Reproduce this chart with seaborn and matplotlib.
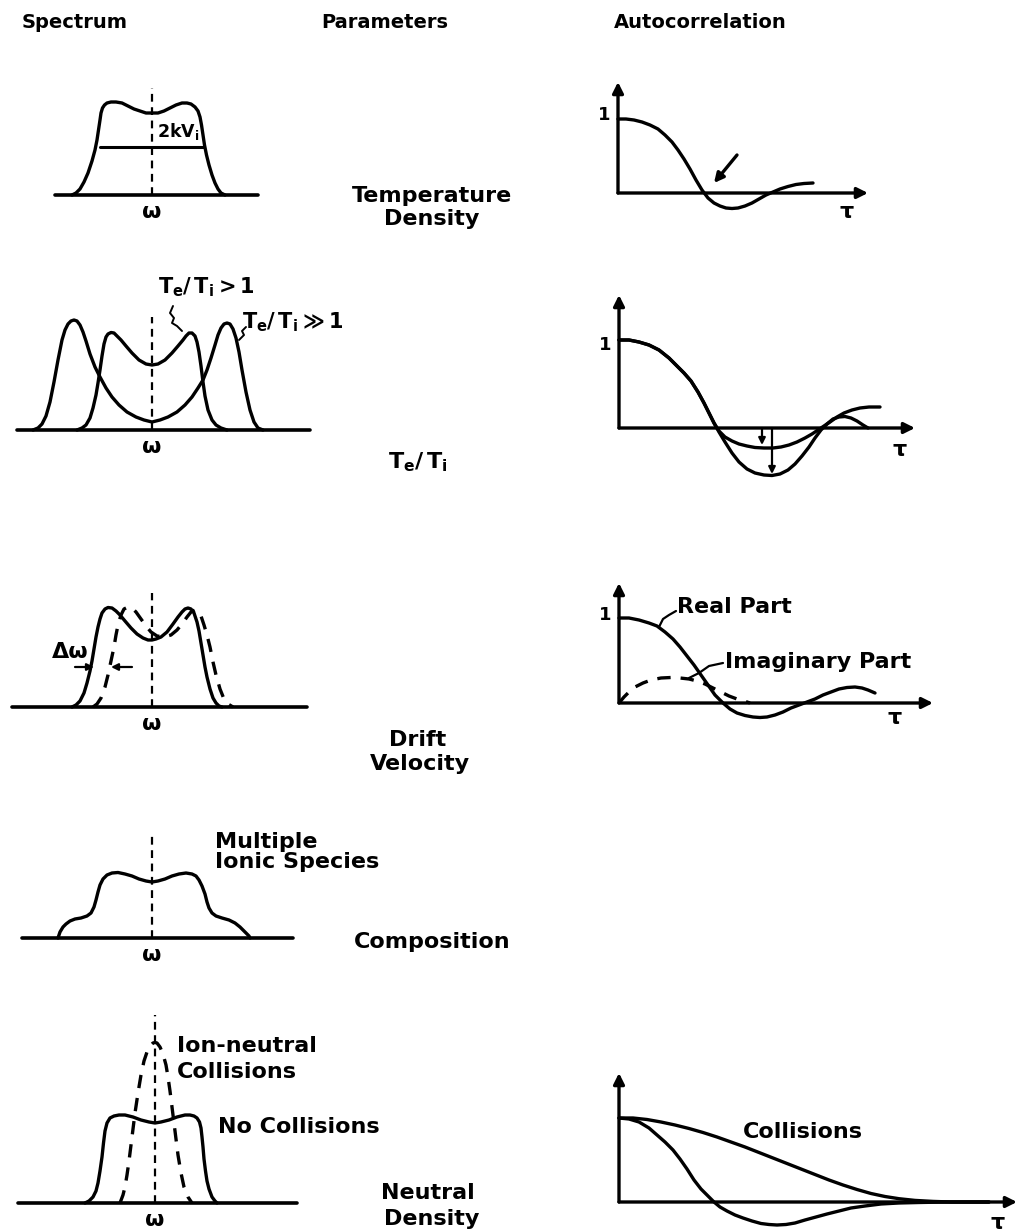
import matplotlib
matplotlib.use("Agg")
import matplotlib.pyplot as plt
import seaborn as sns

# ---- traced curves (local units: x = offset from centre / origin, y = height above baseline) ----
# spectra
s1_x = [-80, -76, -72, -68, -64, -60, -57, -55, -53.5, -52, -51, -49.5, -47.5, -45, -41, -36, -30, -24, -18, -12, -6, 0,
        6, 12, 18, 24, 30, 35, 39, 43, 46, 48, 49.5, 51, 52.5, 54.5, 57, 60, 63, 66, 69, 73]
s1_y = [0, 2, 6, 13, 22, 34, 45, 55, 65, 75, 82, 87, 90, 92, 93, 93, 92, 89, 86, 84, 82, 82,
        82, 84, 87, 90, 92, 92, 91, 88, 84, 78, 70, 60, 50, 40, 30, 20, 12, 6, 2, 0]

s2_wide_x = [-119, -114, -110, -106, -102, -98, -94, -90, -87, -84, -81, -78, -75, -72, -69, -66, -62, -57, -52, -46, -40,
             -33, -25, -16, -8, 0, 8, 16, 25, 33, 40, 46, 51, 55, 59, 63, 66, 69, 72, 75, 78, 81, 84, 87, 90, 94, 98,
             102, 106, 111]
s2_wide_y = [0, 2, 6, 14, 28, 48, 70, 90, 100, 106, 109, 110, 109, 105, 98, 89, 76, 63, 53, 42, 33,
             25, 18, 13, 10, 8, 10, 13, 18, 25, 33, 42, 50, 60, 72, 85, 95, 102, 106, 107, 106, 101, 92, 78, 60, 38, 20,
             8, 2, 0]
s2_narrow_x = [-75, -70, -66, -62, -59, -56, -54, -52, -50, -48, -46, -44, -41, -38, -35, -31, -26, -20, -13, -6, 0,
               6, 13, 20, 26, 31, 34, 37, 40, 43, 45, 47, 49, 51, 53, 56, 60, 64, 69, 75]
s2_narrow_y = [0, 2, 5, 12, 22, 35, 47, 60, 74, 86, 93, 96, 97.5, 97, 94, 90, 84, 77, 70, 66, 65,
               66, 70, 77, 84, 90, 94, 97, 97, 94, 88, 78, 64, 48, 34, 20, 10, 5, 2, 0]

s3_solid_x = [-80, -76, -72, -68, -65, -62, -60, -58, -56, -54, -52, -50, -47, -44, -40, -36, -32, -27, -21, -15, -9, -4,
              0, 4, 9, 15, 21, 26, 30, 33, 36, 39, 42, 45, 47, 49, 51, 53, 55, 58, 61, 64, 67, 70]
s3_solid_y = [0, 2, 6, 14, 24, 36, 46, 58, 70, 80, 88, 94, 98, 99.5, 99, 96, 92, 86, 79, 73, 69, 67,
              67, 68, 70, 75, 83, 90, 95, 98, 99, 98, 94, 85, 76, 64, 52, 40, 30, 18, 9, 4, 1, 0]
s3_dash_x = [-59, -55, -51, -47, -44, -41, -38, -36, -34, -31, -28, -24, -20, -16, -11, -6, -1, 5, 12, 19, 25, 30, 35,
             39, 43, 46, 49, 52, 55, 58, 61, 64, 68, 72, 76, 81]
s3_dash_y = [0, 3, 9, 20, 32, 46, 60, 72, 82, 92, 98, 100, 99, 95, 88, 81, 75, 71, 70, 72, 77, 83, 90,
             95, 97, 96, 91, 82, 72, 60, 45, 32, 18, 8, 3, 0]

s4_x = [-94, -92, -89, -86, -82, -77, -71, -65, -61, -58, -56, -54, -52, -49, -45, -40, -34, -27, -20, -13, -6, 0,
        6, 13, 20, 27, 34, 40, 44, 47, 50, 53, 55, 57, 60, 64, 70, 77, 83, 88, 92, 95, 97, 98]
s4_y = [0, 6, 11, 14, 17, 19, 20, 22, 25, 31, 38, 46, 53, 59, 63, 65, 65.5, 64, 62, 59, 57, 56,
        57, 59, 62, 64, 65, 64, 62, 58, 52, 44, 36, 30, 25, 22, 20, 18, 15, 11, 7, 4, 2, 0]

s5_solid_x = [-70, -66, -62, -59, -57, -55, -53, -51.5, -50, -48, -45, -41, -36, -30, -22, -14, -6, 0,
              6, 14, 22, 30, 35, 39, 42, 44.5, 46, 47, 48, 49, 50.5, 52, 54, 57, 60, 62]
s5_solid_y = [0, 2, 6, 12, 20, 32, 46, 60, 72, 80, 85, 87, 88, 88, 86, 83, 81, 80,
              81, 83, 86, 88, 88, 87, 85, 81, 75, 66, 56, 44, 32, 22, 14, 6, 2, 0]
s5_dash_x = [-35, -32, -30, -28, -26, -24, -22, -20, -17, -14, -11, -8, -5, -2, 0, 2, 5, 8, 11, 13, 15, 17, 19, 21, 23,
             26, 29, 33, 37]
s5_dash_y = [0, 8, 16, 28, 42, 58, 74, 90, 110, 128, 142, 151, 157, 160, 160.5, 160, 156, 149, 138, 126, 112, 96, 80, 64,
             48, 30, 16, 6, 0]

# autocorrelations
a1_x = [0, 8, 16, 24, 32, 40, 47, 54, 60, 66, 72, 78, 84, 90, 96, 102, 108, 114, 120, 127, 134, 141, 148, 155, 162,
        170, 178, 186, 195]
a1_y = [74, 74, 73, 71, 68, 64, 58, 51, 43, 34, 24, 13, 3, -5, -10, -13, -15, -15.5, -15, -13, -10, -6, -2, 1, 4,
        6.5, 8.5, 9.5, 10]

a2_a_x = [0, 10, 20, 30, 40, 50, 58, 65, 72, 79, 85, 90, 95, 100, 106, 113, 120, 128, 136, 145, 154, 162, 170, 178, 186,
          193, 199, 205, 211, 218, 225, 233, 241, 250, 261]
a2_a_y = [88, 88, 86, 83, 78, 70, 62, 55, 47, 36, 25, 15, 5, -3, -9, -13, -16, -18, -19.5, -20, -20, -19, -17, -14, -10,
          -6, -2, 2, 6, 11, 15, 18, 20, 21, 21]
a2_b_x = [0, 10, 20, 30, 40, 50, 58, 65, 72, 79, 85, 90, 95, 100, 106, 113, 120, 128, 136, 145, 153, 161, 169, 176, 183,
          190, 196, 202, 208, 214, 220, 226, 232, 238, 244, 249]
a2_b_y = [88, 88, 86, 83, 78, 70, 62, 55, 47, 36, 25, 15, 5, -4, -14, -25, -34, -41, -45, -47, -47.5, -46, -42, -36, -28,
          -19, -10, -2, 4, 9, 11, 11.5, 10, 7, 3, 0]

a3_re_x = [0, 10, 20, 30, 38, 46, 54, 61, 68, 75, 82, 89, 96, 104, 111, 118, 126, 134, 141, 148, 156, 164, 172, 180,
           188, 196, 204, 212, 220, 228, 236, 243, 249, 256]
a3_re_y = [85, 85, 83, 80, 77, 71, 64, 56, 47, 38, 28, 18, 8, 0, -6, -10, -12.5, -14, -14.5, -14, -12, -9, -5, -2,
           1, 4, 8, 11, 14, 15.5, 16, 15, 13, 10]
a3_im_x = [0, 5, 10, 16, 24, 32, 42, 52, 61, 70, 78, 86, 94, 102, 110, 118, 125, 131]
a3_im_y = [0, 6, 11, 16, 20, 23, 25, 25.5, 25, 24, 22, 19, 15, 11, 7, 4, 2, 0]

a5_col_x = [0, 14, 28, 42, 56, 70, 84, 98, 112, 126, 140, 154, 168, 182, 196, 210, 224, 238, 252, 266, 280, 296, 314,
            332, 370]
a5_col_y = [84, 84, 82.5, 80, 77, 73.5, 69.5, 65, 60, 55, 49.5, 44, 38.5, 33, 27.5, 22, 17, 12.5, 8.5, 5.5, 3.3, 1.6,
            0.6, 0, 0]
a5_free_x = [0, 10, 20, 30, 38, 46, 54, 61, 68, 75, 82, 89, 95, 101, 108, 116, 124, 133, 142, 150, 158, 167, 176, 186,
             197, 208, 220, 232, 246, 262, 280, 300, 328, 370]
a5_free_y = [84, 83, 80, 74, 67, 60, 52, 43, 33, 22, 13, 6, 0, -5, -9, -13, -16, -19, -21.5, -22.5, -23, -22.5, -21, -18,
             -15, -12, -9, -6, -4, -2, -1, -0.5, 0, 0]

# ---- layout (pixels) ----
W, H = 1019, 1232
sns.set_theme(style="white")
plt.rcParams["font.family"] = ["DejaVu Sans"]
plt.rcParams["mathtext.fontset"] = "dejavusans"
plt.rcParams["text.color"] = "black"

fig = plt.figure(figsize=(W / 100, H / 100), dpi=100)
bg = fig.add_axes([0, 0, 1, 1])
bg.set_xlim(0, W)
bg.set_ylim(H, 0)
bg.axis("off")

LW = 2.4
FS = 16       # parameter text and curve labels
HFS = 14      # column headers


def panel(ox, oy, left, right, down, up):
    ax = fig.add_axes([(ox - left) / W, 1 - (oy + down) / H, (left + right) / W, (up + down) / H])
    ax.set_xlim(-left, right)
    ax.set_ylim(-down, up)
    ax.axis("off")
    return ax


def curve(ax, xs, ys, dashed=False, lw=LW):
    sns.lineplot(x=xs, y=ys, ax=ax, color="black", lw=lw, sort=False, estimator=None,
                 linestyle=(0, (4, 3)) if dashed else "-", solid_capstyle="round",
                 solid_joinstyle="round")


def label(ax, x, y, txt, size=FS, ha="left"):
    ax.text(x, y, txt, ha=ha, va="center", fontsize=size, fontweight="bold", zorder=5)


def spectrum_frame(ax, x0, x1, top):
    ax.plot([x0, x1], [0, 0], color="black", lw=2.6)
    ax.plot([0, 0], [0, top], color="black", lw=1.6, linestyle=(0, (3.5, 2.5)))
    label(ax, 0, -17, "ω", ha="center")


def arrow(ax, x0, y0, x1, y1, lw=2.4, ms=14):
    ax.annotate("", xy=(x1, y1), xytext=(x0, y0),
                arrowprops=dict(arrowstyle="-|>", color="black", lw=lw, mutation_scale=ms,
                                shrinkA=0, shrinkB=0))


def auto_frame(ax, xend, ytop, one=None, tau=None):
    arrow(ax, 0, 0, 0, ytop, lw=2.4, ms=16)
    arrow(ax, 0, 0, xend, 0, lw=2.4, ms=16)
    if one is not None:
        label(ax, -14, one, "1", size=13, ha="center")
    if tau is not None:
        label(ax, tau[0], tau[1], "τ", ha="center")


# headers and parameters
for txt, x in [("Spectrum", 75), ("Parameters", 385), ("Autocorrelation", 700)]:
    bg.text(x, 22, txt, ha="center", va="center", fontsize=HFS, fontweight="bold")
for txt, x, y in [("Temperature", 432, 196), ("Density", 432, 219),
                  (r"$\mathbf{T_e/\,T_i}$", 418, 462),
                  ("Drift", 418, 740), ("Velocity", 420, 764),
                  ("Composition", 432, 942),
                  ("Neutral", 428, 1193), ("Density", 432, 1219)]:
    bg.text(x, y, txt, ha="center", va="center", fontsize=FS, fontweight="bold")

# ---- row 1 ----
ax = panel(152, 195, 100, 110, 30, 115)
spectrum_frame(ax, -97, 106, 107)
curve(ax, s1_x, s1_y)
ax.plot([-52, 51], [48, 48], color="black", lw=2.2)
label(ax, 5, 63, r"$\mathbf{2kV_i}$", size=12.5)

ax = panel(618, 193, 30, 260, 30, 115)
auto_frame(ax, 250, 111, one=78, tau=(229, -19))
curve(ax, a1_x, a1_y)
arrow(ax, 119, 38, 96, 10, lw=2.4, ms=14)

# ---- row 2 ----
ax = panel(152, 430, 140, 220, 30, 160)
spectrum_frame(ax, -135, 158, 113)
curve(ax, s2_wide_x, s2_wide_y)
curve(ax, s2_narrow_x, s2_narrow_y)
label(ax, 6, 143, r"$\mathbf{T_e/\,T_i > 1}$", size=15)
label(ax, 90, 108, r"$\mathbf{T_e/\,T_i \gg 1}$", size=15)
ax.plot([21, 18, 22, 20, 25, 30], [124, 117, 112, 107, 104, 99], color="black", lw=1.4)
ax.plot([94, 90, 92, 87], [103, 99, 95, 90], color="black", lw=1.4)

ax = panel(619, 428, 30, 305, 60, 140)
auto_frame(ax, 296, 133, one=83, tau=(281, -22))
curve(ax, a2_a_x, a2_a_y)
curve(ax, a2_b_x, a2_b_y)
arrow(ax, 143, 0, 143, -17, lw=1.6, ms=10)
arrow(ax, 153, 0, 153, -46, lw=1.6, ms=10)

# ---- row 3 ----
ax = panel(152, 707, 145, 160, 30, 120)
spectrum_frame(ax, -140, 155, 114)
curve(ax, s3_solid_x, s3_solid_y)
curve(ax, s3_dash_x, s3_dash_y, dashed=True)
label(ax, -100, 55, "Δω")
arrow(ax, -77, 40, -58, 40, lw=1.6, ms=10)
arrow(ax, -20, 40, -41, 40, lw=1.6, ms=10)

ax = panel(619, 703, 30, 330, 30, 125)
auto_frame(ax, 314, 120, one=88, tau=(276, -15))
curve(ax, a3_re_x, a3_re_y)
curve(ax, a3_im_x, a3_im_y, dashed=True)
label(ax, 58, 96, "Real Part")
label(ax, 106, 41, "Imaginary Part")
ax.plot([57, 50, 44, 40], [92, 88, 84, 76], color="black", lw=1.6)
ax.plot([104, 90, 80, 70], [40, 37, 30, 25], color="black", lw=1.6)

# ---- row 4 ----
ax = panel(152, 938, 135, 240, 30, 115)
spectrum_frame(ax, -130, 141, 103)
curve(ax, s4_x, s4_y)
label(ax, 63, 96, "Multiple")
label(ax, 63, 76, "Ionic Species")

# ---- row 5 ----
ax = panel(155, 1203, 140, 240, 29, 195)
spectrum_frame(ax, -137, 142, 188)
curve(ax, s5_solid_x, s5_solid_y)
curve(ax, s5_dash_x, s5_dash_y, dashed=True)
label(ax, 22, 157, "Ion-neutral")
label(ax, 22, 131, "Collisions")
label(ax, 63, 76, "No Collisions")

ax = panel(619, 1202, 30, 400, 30, 135)
auto_frame(ax, 398, 129, tau=(379, -21))
curve(ax, a5_col_x, a5_col_y)
curve(ax, a5_free_x, a5_free_y)
label(ax, 124, 70, "Collisions")

fig.savefig("out.png", dpi=100, facecolor="white")
